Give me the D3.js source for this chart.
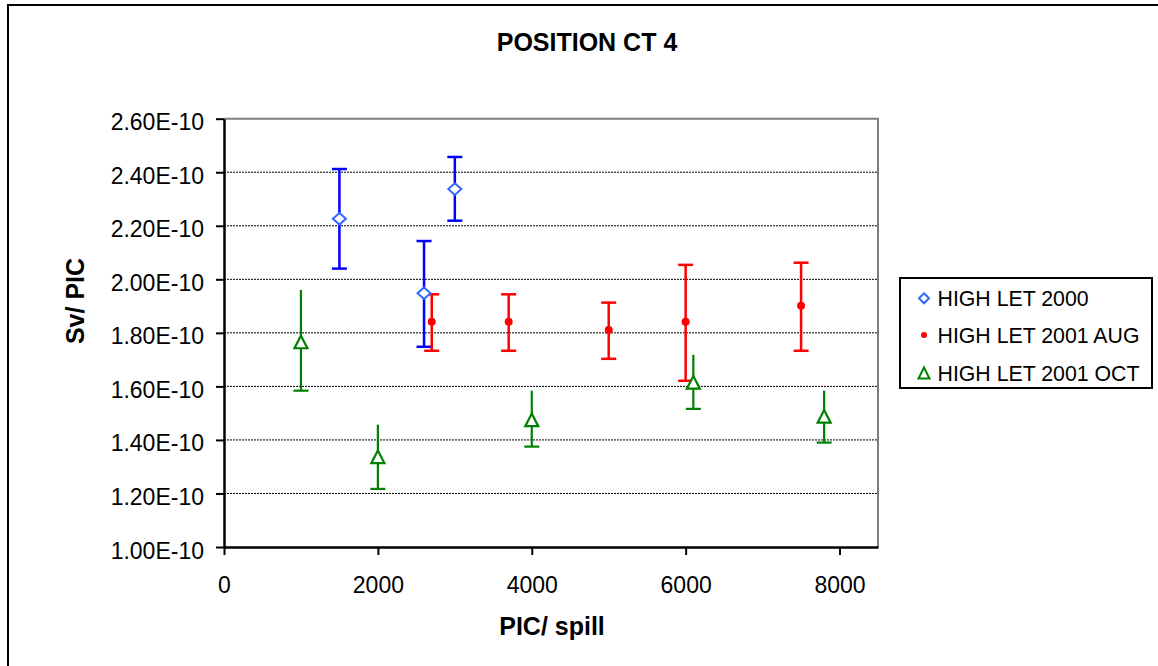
<!DOCTYPE html>
<html><head><meta charset="utf-8">
<script src="https://cdn.jsdelivr.net/npm/d3@7"></script>
<style>
html,body{margin:0;padding:0;background:#fff;}
svg text{font-family:"Liberation Sans",Arial,sans-serif;fill:#000;}
</style></head>
<body><svg id="chart" width="1158" height="666"></svg>
<script>
// ---- data (values in units of 1E-10 Sv/PIC) ----
const seriesNames = ["HIGH LET 2000", "HIGH LET 2001 AUG", "HIGH LET 2001 OCT"];

const x2000 = [1500, 2600, 3000];
const y2000 = [2.226, 1.948, 2.337];
const hi2000 = [2.412, 2.143, 2.457];
const lo2000 = [2.040, 1.748, 2.219];

const xAug = [2700, 3700, 5000, 6000, 7500];
const yAug = [1.841, 1.841, 1.811, 1.841, 1.901];
const hiAug = [1.944, 1.944, 1.913, 2.054, 2.062];
const loAug = [1.733, 1.733, 1.703, 1.621, 1.733];

const xOct = [1000, 2000, 4000, 6100, 7800];
const yOct = [1.766, 1.337, 1.475, 1.615, 1.488];
const hiOct = [1.960, 1.457, 1.584, 1.718, 1.584];
const loOct = [1.584, 1.217, 1.375, 1.516, 1.390];

const xTickValues = [0, 2000, 4000, 6000, 8000];
const xTickLabels = ["0", "2000", "4000", "6000", "8000"];
const yTickValues = [1.0, 1.2, 1.4, 1.6, 1.8, 2.0, 2.2, 2.4, 2.6];
const yTickLabels = ["1.00E-10","1.20E-10","1.40E-10","1.60E-10","1.80E-10","2.00E-10","2.20E-10","2.40E-10","2.60E-10"];

const titleText = "POSITION CT 4";
const xTitle = "PIC/ spill";
const yTitle = "Sv/ PIC";

// ---- layout ----
const svg = d3.select("#chart");
const L = 224, R = 878, T = 118.7, B = 547;
const x = d3.scaleLinear().domain([0, 8500]).range([L, R]);
const y = d3.scaleLinear().domain([1.0, 2.6]).range([B, T]);

// outer border
svg.append("rect").attr("x", 8).attr("y", 5).attr("width", 1170).attr("height", 680)
  .attr("fill", "#fff").attr("stroke", "#000").attr("stroke-width", 2);

// grid lines
svg.append("g").selectAll("line").data(yTickValues.filter(v => v > 1.0 && v < 2.6)).join("line")
  .attr("x1", L).attr("x2", R).attr("y1", d => y(d)).attr("y2", d => y(d))
  .attr("stroke", "#000").attr("stroke-width", 1).attr("stroke-dasharray", "2,1");

// plot border (top & right, grey)
svg.append("path").attr("d", `M${L},${T}H${R}V${B}`).attr("fill", "none")
  .attr("stroke", "#808080").attr("stroke-width", 2);

// axes
const yAxis = d3.axisLeft(y).tickValues(yTickValues).tickSize(8).tickSizeOuter(0).tickPadding(12)
  .tickFormat((d, i) => yTickLabels[i]);
const gy = svg.append("g").attr("transform", `translate(${L},0)`).call(yAxis);
gy.selectAll("text").attr("font-size", 23).attr("dy", "0.48em");

const xAxis = d3.axisBottom(x).tickValues(xTickValues).tickSize(8).tickSizeOuter(0).tickPadding(22)
  .tickFormat((d, i) => xTickLabels[i]);
const gx = svg.append("g").attr("transform", `translate(0,${B})`).call(xAxis);
gx.selectAll("text").attr("font-size", 23);

[gx, gy].forEach(g => {
  g.select(".domain").attr("stroke", "#000").attr("stroke-width", 2.5);
  g.selectAll(".tick line").attr("stroke", "#000").attr("stroke-width", 2);
  g.selectAll("text").attr("fill", "#000").attr("font-family", "Liberation Sans, Arial, sans-serif");
});

// titles
svg.append("text").attr("x", 587).attr("y", 51).attr("text-anchor", "middle")
  .attr("font-size", 25).attr("font-weight", "bold").text(titleText);
svg.append("text").attr("x", 552).attr("y", 635).attr("text-anchor", "middle")
  .attr("font-size", 25).attr("font-weight", "bold").text(xTitle);
svg.append("text").attr("transform", "translate(84,301) rotate(-90)").attr("text-anchor", "middle")
  .attr("font-size", 25).attr("font-weight", "bold").text(yTitle);

// error bars
function errBars(xs, ys, his, los, color, topCap, width) {
  const g = svg.append("g").attr("stroke", color).attr("stroke-width", width).attr("fill", "none");
  xs.forEach((xv, i) => {
    const cx = x(xv);
    g.append("line").attr("x1", cx).attr("x2", cx).attr("y1", y(his[i])).attr("y2", y(los[i]));
    g.append("line").attr("x1", cx - 7.5).attr("x2", cx + 7.5).attr("y1", y(los[i])).attr("y2", y(los[i]));
    if (topCap) g.append("line").attr("x1", cx - 7.5).attr("x2", cx + 7.5).attr("y1", y(his[i])).attr("y2", y(his[i]));
  });
}
errBars(x2000, y2000, hi2000, lo2000, "#0000ff", true, 2.5);
errBars(xAug, yAug, hiAug, loAug, "#ff0000", true, 2.5);
errBars(xOct, yOct, hiOct, loOct, "#008000", false, 2.2);

// markers
const diamond = (cx, cy, w, h) => `M${cx},${cy - h}L${cx + w},${cy}L${cx},${cy + h}L${cx - w},${cy}Z`;
const tri = (cx, cy, w, h) => `M${cx},${cy - h}L${cx + w},${cy + h}L${cx - w},${cy + h}Z`;

svg.append("g").selectAll("path").data(x2000.map((v, i) => [v, y2000[i]])).join("path")
  .attr("d", d => diamond(x(d[0]), y(d[1]), 6.5, 5.8))
  .attr("fill", "#fff").attr("stroke", "#3366ff").attr("stroke-width", 2);

svg.append("g").selectAll("circle").data(xAug.map((v, i) => [v, yAug[i]])).join("circle")
  .attr("cx", d => x(d[0])).attr("cy", d => y(d[1])).attr("r", 4).attr("fill", "#ff0000");

svg.append("g").selectAll("path").data(xOct.map((v, i) => [v, yOct[i]])).join("path")
  .attr("d", d => tri(x(d[0]), y(d[1]), 6.5, 6.3))
  .attr("fill", "#fff").attr("stroke", "#008000").attr("stroke-width", 2.2);

// legend
const lg = svg.append("g");
lg.append("rect").attr("x", 900).attr("y", 278).attr("width", 252).attr("height", 110)
  .attr("fill", "#fff").attr("stroke", "#000").attr("stroke-width", 2);
const rowsY = [298.3, 335, 373];
lg.append("path").attr("d", diamond(924, rowsY[0], 5, 5)).attr("fill", "#fff").attr("stroke", "#3366ff").attr("stroke-width", 2);
lg.append("circle").attr("cx", 924).attr("cy", rowsY[1]).attr("r", 3).attr("fill", "#ff0000");
lg.append("path").attr("d", tri(924, rowsY[2], 5.5, 5.5)).attr("fill", "#fff").attr("stroke", "#008000").attr("stroke-width", 2);
lg.selectAll("text.lt").data(seriesNames).join("text").attr("class", "lt")
  .attr("x", 937.5).attr("y", (d, i) => rowsY[i] + 7.6).attr("font-size", 21.3).text(d => d);
</script></body></html>
